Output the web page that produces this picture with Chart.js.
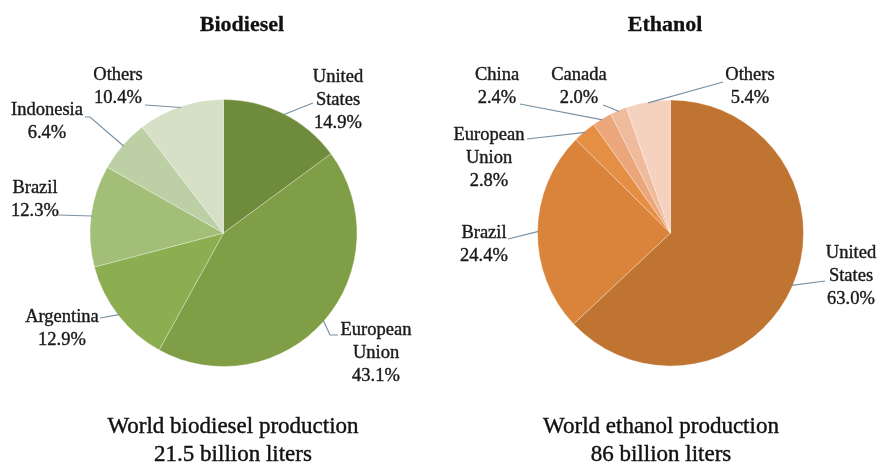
<!DOCTYPE html>
<html>
<head>
<meta charset="utf-8">
<script src="https://cdn.jsdelivr.net/npm/chart.js@4/dist/chart.umd.min.js"></script>
<style>
  html, body { margin: 0; padding: 0; background: #fff; }
  .wrap { position: relative; width: 878px; height: 464px; }
  .wrap canvas { position: absolute; top: 0; }
  #bioChart { left: 0; }
  #ethChart { left: 439px; }
</style>
</head>
<body>
<div class="wrap">
  <canvas id="bioChart" width="439" height="464"></canvas>
  <canvas id="ethChart" width="439" height="464"></canvas>
</div>
<script>
// shares of world production, in percent, clockwise from 12 o'clock
const biodieselLabels = ['United States', 'European Union', 'Argentina', 'Brazil', 'Indonesia', 'Others'];
const biodieselShares = [14.9, 43.1, 12.9, 12.3, 6.4, 10.4];
const biodieselTotal = ['World biodiesel production', '21.5 billion liters'];

const ethanolLabels = ['United States', 'Brazil', 'European Union', 'China', 'Canada', 'Others'];
const ethanolShares = [63.0, 24.4, 2.8, 2.4, 2.0, 5.4];
const ethanolTotal = ['World ethanol production', '86 billion liters'];

const greens = ['#6f8c3c', '#7f9e46', '#8cae50', '#a3bf77', '#bdcfa5', '#d5e0c7'];
const oranges = ['#bf7431', '#d9843a', '#e58f45', '#eca67b', '#f0bb9d', '#f5d1c0'];

const SERIF = '"Liberation Serif", "Times New Roman", serif';

// where each callout's text sits and the bend of its leader line (canvas px)
const bioCallouts = [
  { x: 338, y: 77, line: [[313, 103]] },
  { x: 376, y: 330, line: [[338, 335], [330, 335]] },
  { x: 62, y: 317, line: [[100, 318]] },
  { x: 35, y: 188, line: [[58, 215]] },
  { x: 47, y: 110, line: [[85, 117], [90, 117]] },
  { x: 118, y: 75, line: [[145, 105]] }
];
const ethCallouts = [
  { x: 412, y: 253, line: [[386, 281]] },
  { x: 45, y: 233, line: [[69, 239]] },
  { x: 50, y: 135, line: [[88, 139]] },
  { x: 58, y: 75, line: [[81, 104]] },
  { x: 140, y: 75, line: [[164, 105], [172, 108]] },
  { x: 311, y: 75, line: [[284, 82]] }
];

// fill + hairline stroke so the serif reads a little heavier
function heavyText(ctx, t, x, y) {
  ctx.fillText(t, x, y);
  ctx.strokeText(t, x, y);
}

const calloutPlugin = {
  id: 'callouts',
  afterDraw(chart, args, opts) {
    const ctx = chart.ctx;
    const meta = chart.getDatasetMeta(0);
    const labels = chart.data.labels;
    const values = chart.data.datasets[0].data;
    ctx.save();
    ctx.textAlign = 'center';
    ctx.textBaseline = 'middle';

    // leader lines + slice labels
    opts.items.forEach((c, i) => {
      const arc = meta.data[i];
      const p = arc.getProps(['x', 'y', 'startAngle', 'endAngle', 'outerRadius'], true);
      const mid = (p.startAngle + p.endAngle) / 2;
      const ax = p.x + Math.cos(mid) * (p.outerRadius - 1);
      const ay = p.y + Math.sin(mid) * (p.outerRadius - 1);
      ctx.strokeStyle = '#7891a3';
      ctx.lineWidth = 1.2;
      ctx.beginPath();
      ctx.moveTo(c.line[0][0], c.line[0][1]);
      for (let k = 1; k < c.line.length; k++) ctx.lineTo(c.line[k][0], c.line[k][1]);
      ctx.lineTo(ax, ay);
      ctx.stroke();

      const lines = labels[i].split(' ').concat(values[i].toFixed(1) + '%');
      ctx.fillStyle = '#1a1a1a';
      ctx.strokeStyle = '#1a1a1a';
      ctx.lineWidth = 0.4;
      ctx.font = '18.5px ' + SERIF;
      lines.forEach((t, k) => heavyText(ctx, t, c.x, c.y + k * 23));
    });

    // heading and totals underneath
    ctx.fillStyle = '#111';
    ctx.strokeStyle = '#111';
    ctx.lineWidth = 0.3;
    ctx.font = 'bold 22px ' + SERIF;
    heavyText(ctx, opts.heading, opts.headingX, 25);
    ctx.lineWidth = 0.4;
    ctx.font = '23px ' + SERIF;
    opts.footer.forEach((t, k) => heavyText(ctx, t, opts.footerX, 427 + k * 28));
    ctx.restore();
  }
};

function makePie(id, labels, values, colors, padding, pluginOpts) {
  return new Chart(document.getElementById(id), {
    type: 'pie',
    data: {
      labels: labels,
      datasets: [{
        data: values,
        backgroundColor: colors,
        borderColor: 'rgba(255,255,255,0.3)',
        borderWidth: 1
      }]
    },
    options: {
      responsive: false,
      animation: false,
      layout: { padding: padding },
      plugins: {
        legend: { display: false },
        tooltip: { enabled: false },
        callouts: pluginOpts
      }
    },
    plugins: [calloutPlugin]
  });
}

makePie('bioChart', biodieselLabels, biodieselShares, greens,
  { left: 89, right: 81, top: 99, bottom: 97 },
  { items: bioCallouts, heading: 'Biodiesel', headingX: 242, footer: biodieselTotal, footerX: 233 });

makePie('ethChart', ethanolLabels, ethanolShares, oranges,
  { left: 98, right: 74, top: 99, bottom: 97 },
  { items: ethCallouts, heading: 'Ethanol', headingX: 226, footer: ethanolTotal, footerX: 222 });
</script>
</body>
</html>
